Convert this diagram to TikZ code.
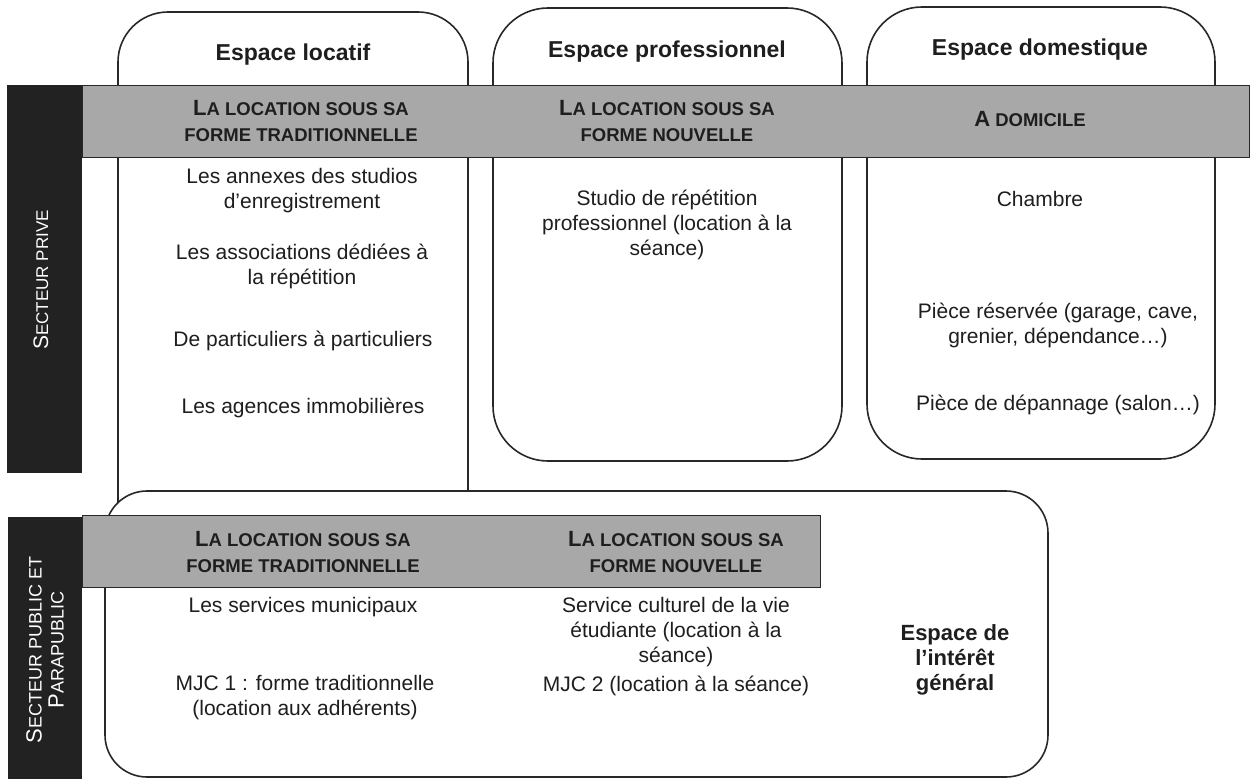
\documentclass[tikz,border=0pt]{standalone}
\usepackage{fontspec}
\setmainfont{Liberation Sans}
\definecolor{traitgris}{RGB}{40,40,40}
\definecolor{bandegris}{RGB}{168,168,168}
\definecolor{barrenoir}{RGB}{34,34,34}
\definecolor{textegris}{RGB}{30,30,30}
% grande capitale devant les petites capitales
\newcommand\grandecap[1]{{\fontsize{22}{26}\selectfont #1}}
\newcommand\secteurcap[1]{{\fontsize{21}{24}\selectfont #1}}
\newcommand\publiccap[1]{{\fontsize{22}{22}\selectfont #1}}

\begin{document}
\begin{tikzpicture}[x=1pt,y=-1pt,
  boite/.style={draw=traitgris,line width=1.6pt,fill=white},
  bande/.style={draw=traitgris,line width=1pt,fill=bandegris},
  barre/.style={fill=barrenoir},
  titre/.style={anchor=base,font=\fontsize{23}{27}\selectfont\bfseries,text=textegris},
  texte/.style={align=center,font=\fontsize{21}{25}\selectfont,text=textegris},
  forme/.style={align=center,font=\fontsize{18.5}{26}\selectfont\bfseries,text=textegris},
  general/.style={align=center,font=\fontsize{22}{25}\selectfont\bfseries,text=textegris},
  secteur/.style={rotate=90,align=center,text=white}]
  \useasboundingbox (0,0) rectangle (1254,779);

  % les trois espaces du haut
  \draw[boite,rounded corners=50pt] (118,600) -- (118,12) -- (468,12) -- (468,600);
  \draw[boite,rounded corners=55pt] (493,8) rectangle (842,461);
  \draw[boite,rounded corners=55pt] (867,7) rectangle (1215,459);

  % secteur prive
  \draw[bande] (82,85) rectangle (1249,157);
  \fill[barre] (7,85) rectangle (82,473);

  % espace de l'interet general
  \draw[boite,rounded corners=42pt] (105,491) rectangle (1048,777);
  \draw[bande] (82,515) rectangle (820,587);
  \fill[barre] (8,517) rectangle (82,779);

  \node[titre] (titreLoc) at (293,60) {Espace locatif};
  \node[titre] (titreProf) at (667,57) {Espace professionnel};
  \node[titre] (titreDom) at (1040,55) {Espace domestique};

  \node[forme] (formeTradA) at (301,121) {\grandecap{L}A LOCATION SOUS SA\\FORME TRADITIONNELLE};
  \node[forme] (formeNouvA) at (667,121) {\grandecap{L}A LOCATION SOUS SA\\FORME NOUVELLE};
  \node[forme] (domicile) at (1030,119) {\grandecap{A} DOMICILE};

  \node[texte] (annexes) at (302,191) {Les annexes des studios\\d’enregistrement};
  \node[texte] (associations) at (302,266) {Les associations dédiées à\\la répétition};
  \node[texte] (particuliers) at (303,341) {De particuliers à particuliers};
  \node[texte] (agences) at (303,408) {Les agences immobilières};

  \node[texte] (studio) at (667,225) {Studio de répétition\\professionnel (location à la\\séance)};

  \node[texte] (chambre) at (1040,199) {Chambre};
  \node[texte] (piece) at (1058,325) {Pièce réservée (garage, cave,\\grenier, dépendance…)};
  \node[texte] (depannage) at (1058,405) {Pièce de dépannage (salon…)};

  \node[forme] (formeTradB) at (303,552) {\grandecap{L}A LOCATION SOUS SA\\FORME TRADITIONNELLE};
  \node[forme] (formeNouvB) at (676,552) {\grandecap{L}A LOCATION SOUS SA\\FORME NOUVELLE};

  \node[texte] (municipaux) at (303,607) {Les services municipaux};
  \node[texte] (mjcA) at (305,698) {MJC 1 : forme traditionnelle\\(location aux adhérents)};
  \node[texte] (culturel) at (676,632) {Service culturel de la vie\\étudiante (location à la\\séance)};
  \node[texte] (mjcB) at (676,686) {MJC 2 (location à la séance)};
  \node[general] (interet) at (955,660) {Espace de\\l’intérêt\\général};

  \node[secteur,font=\fontsize{17}{24}\selectfont] (secteurPrive) at (41,280) {\secteurcap{S}ECTEUR PRIVE};
  \node[secteur,font=\fontsize{18}{22}\selectfont] (secteurPublic) at (45,650) {\publiccap{S}ECTEUR PUBLIC ET\\\publiccap{P}ARAPUBLIC};
\end{tikzpicture}
\end{document}
